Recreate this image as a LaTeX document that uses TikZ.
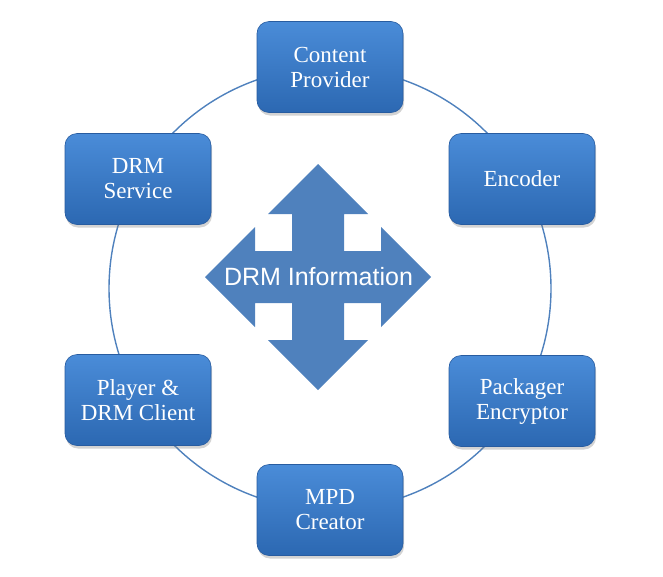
\documentclass[tikz,border=0pt]{standalone}
\usepackage{fontspec}
\setmainfont{Liberation Serif}
\newfontfamily\infofont{Liberation Sans}
\usetikzlibrary{shapes,shadows}
\definecolor{ringblue}{RGB}{79,129,189}
\definecolor{boxtop}{RGB}{74,140,216}
\definecolor{boxbot}{RGB}{44,104,178}
\definecolor{boxline}{RGB}{40,92,160}

\begin{document}
\begin{tikzpicture}%[every node/.style={draw}]
[x=1pt,y=-1pt,
    box/.style={rectangle, rounded corners=12pt, draw=boxline, line width=0.6pt,
    top color=boxtop, bottom color=boxbot, text=white, align=center,
    minimum width=146pt, minimum height=91pt,
    font=\fontsize{23}{25}\selectfont,
    drop shadow={shadow xshift=1pt, shadow yshift=-3pt, opacity=0.35}},
    ring/.style={draw=ringblue, line width=1.4pt},
    info/.style={text=white, font=\infofont\fontsize{25}{28}\selectfont}]
    \useasboundingbox (0,0) rectangle (663,576);
    \coordinate (hub) at (330,288.5);
    \draw[ring] (hub) circle (221pt);
    \fill[ringblue, shift={(318,277)}] (0,-113) -- (50,-63) -- (26,-63) -- (26,-26)
        -- (63,-26) -- (63,-50) -- (113,0) -- (63,50) -- (63,26) -- (26,26)
        -- (26,63) -- (50,63) -- (0,113) -- (-50,63) -- (-26,63) -- (-26,26)
        -- (-63,26) -- (-63,50) -- (-113,0) -- (-63,-50) -- (-63,-26)
        -- (-26,-26) -- (-26,-63) -- (-50,-63) -- cycle;
    \node[info] (drm) at (318.5,276.5) {DRM Information};
    \node[box] (prov) at (330,67) {Content\\Provider};
    \node[box] (enc) at (522,179) {Encoder};
    \node[box] (pack) at (522,401) {Packager\\Encryptor};
    \node[box] (mpd) at (330,510) {MPD\\Creator};
    \node[box] (play) at (138,400) {Player \&\\DRM Client};
    \node[box] (serv) at (138,179) {DRM\\Service};
\end{tikzpicture}
\end{document}
